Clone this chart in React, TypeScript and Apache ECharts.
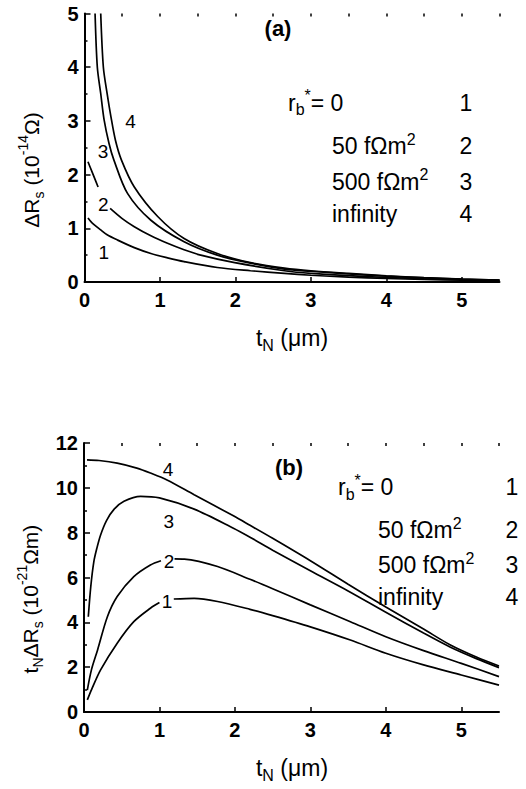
import React, { useEffect, useRef } from 'react';
import * as echarts from 'echarts';

const FONT = '"Liberation Sans", Arial, Helvetica, sans-serif';

// ---------- Panel (a): ΔRs (10^-14 Ω) vs tN (µm) ----------
const curveA1: any[] = [
  [0.046, 1.19], [0.1, 1.1], [0.215, 0.97], [0.3, 0.88], [0.44, 0.78], [0.66, 0.64],
  [0.88, 0.53], [1.1, 0.45], [1.32, 0.38], [1.76, 0.27], [2.2, 0.21], [2.65, 0.16],
  [3, 0.126], [3.5, 0.09], [4, 0.065], [4.5, 0.048], [5, 0.034], [5.5, 0.022],
];
const curveA2: any[] = [
  [0.046, 2.24], [0.1, 2.05], [0.18, 1.77], [0.26, null], [0.34, 1.37], [0.5, 1.18],
  [0.66, 1.03], [0.88, 0.86], [1.1, 0.72], [1.32, 0.6], [1.54, 0.5], [1.99, 0.36],
  [2.65, 0.21], [3, 0.16], [3.5, 0.12], [4, 0.084], [4.5, 0.06], [5, 0.043], [5.5, 0.029],
];
const curveA3: any[] = [
  [0.14, 5.0], [0.17, 4.0], [0.215, 3.51], [0.26, 3.02], [0.325, 2.58], [0.39, 2.27],
  [0.57, 1.65], [0.88, 1.15], [1.32, 0.75], [1.76, 0.5], [2.2, 0.35], [2.65, 0.24],
  [3, 0.2], [3.5, 0.15], [4, 0.11], [4.5, 0.076], [5, 0.052], [5.5, 0.036],
];
const curveA4: any[] = [
  [0.215, 5.0], [0.25, 4.0], [0.3, 3.51], [0.35, 3.08], [0.41, 2.64], [0.49, 2.27],
  [0.66, 1.77], [0.97, 1.22], [1.32, 0.81], [1.76, 0.53], [2.2, 0.36], [2.65, 0.26],
  [3, 0.21], [3.5, 0.16], [4, 0.115], [4.5, 0.08], [5, 0.055], [5.5, 0.037],
];

// ---------- Panel (b): tN·ΔRs (10^-21 Ωm) vs tN (µm) ----------
const curveB1: any[] = [
  [0.044, 0.54], [0.1, 1.0], [0.22, 1.88], [0.44, 3.07], [0.66, 4.03], [0.88, 4.63],
  [1.0, 4.88], [1.1, null], [1.19, 5.04], [1.46, 5.07], [1.77, 4.93], [2.2, 4.58],
  [2.5, 4.3], [3, 3.8], [3.53, 3.21], [4, 2.62], [4.5, 2.1], [5, 1.65], [5.5, 1.2],
];
const curveB2: any[] = [
  [0.044, 0.98], [0.1, 1.9], [0.18, 2.77], [0.31, 4.25], [0.44, 5.15], [0.66, 6.04],
  [0.88, 6.56], [1.02, 6.75], [1.1, null], [1.2, 6.83], [1.33, 6.82], [1.77, 6.49],
  [2.2, 5.92], [2.5, 5.5], [3, 4.78], [3.53, 4.03], [4, 3.36], [4.5, 2.74], [5, 2.17], [5.5, 1.58],
];
const curveB3: any[] = [
  [0.057, 4.25], [0.09, 5.6], [0.13, 6.7], [0.17, 7.3], [0.22, 7.9], [0.3, 8.55],
  [0.4, 9.05], [0.53, 9.4], [0.75, 9.62], [1.0, 9.55], [1.46, 9.05], [1.98, 8.2],
  [2.2, 7.8], [2.5, 7.22], [3, 6.3], [3.5, 5.4], [4, 4.45], [4.5, 3.52], [4.85, 2.9],
  [5.2, 2.38], [5.5, 1.98],
];
const curveB4: any[] = [
  [0.04, 11.25], [0.2, 11.22], [0.44, 11.1], [0.7, 10.88], [0.88, 10.66], [1.1, 10.35],
  [1.46, 9.69], [1.98, 8.75], [2.2, 8.33], [2.5, 7.75], [3, 6.75], [3.5, 5.7], [4, 4.68],
  [4.5, 3.7], [4.85, 3.0], [5.2, 2.45], [5.5, 2.05],
];

const xTickValues = [0, 1, 2, 3, 4, 5];
const curveNames = ['1', '2', '3', '4'];
const legendTexts = ['{n|r}{sub|b}{sup|*}{n|= 0}', '{n|50 fΩm}{sup|2}', '{n|500 fΩm}{sup|2}', '{n|infinity}'];

const rich = (fs: number) => ({
  n: { fontSize: fs, fontFamily: FONT, lineHeight: 30, fill: '#000' },
  sub: { fontSize: Math.round(fs * 0.68), fontFamily: FONT, lineHeight: 14, verticalAlign: 'bottom', fill: '#000' },
  sup: { fontSize: Math.round(fs * 0.68), fontFamily: FONT, lineHeight: 14, verticalAlign: 'top', fill: '#000' },
});

function txt(text: string, x: number, y: number, opts: any = {}) {
  return {
    type: 'text',
    x,
    y,
    rotation: opts.rotation || 0,
    z: 100,
    style: {
      text,
      rich: rich(opts.fs || 23),
      align: opts.align || 'center',
      verticalAlign: 'middle',
      fill: '#000',
      fontFamily: FONT,
      fontSize: opts.fs || 23,
    },
  };
}

function plain(text: string, x: number, y: number, fs: number, bold = false) {
  return {
    type: 'text',
    x,
    y,
    z: 100,
    style: {
      text,
      align: 'center',
      verticalAlign: 'middle',
      fill: '#000',
      fontFamily: FONT,
      fontSize: fs,
      fontWeight: bold ? 'bold' : 'normal',
    },
  };
}

const axisLabelStyle = { color: '#000', fontFamily: FONT, fontSize: 20, fontWeight: 'bold' };

function majorX(gridIndex: number) {
  return {
    type: 'value', gridIndex, min: 0, max: 5.5, interval: 1,
    axisLine: { show: true, onZero: false, lineStyle: { color: '#000', width: 2 } },
    axisTick: { show: true, inside: true, length: 5, customValues: xTickValues, lineStyle: { color: '#000', width: 1.5 } },
    axisLabel: {
      ...axisLabelStyle, margin: 8, customValues: xTickValues,
      formatter: (v: number) => (Number.isInteger(v) ? String(v) : ''),
    },
    splitLine: { show: false },
  };
}
function minorX(gridIndex: number) {
  return {
    type: 'value', gridIndex, min: 0, max: 5.5, interval: 0.5,
    axisLine: { show: false, onZero: false },
    axisTick: { show: true, inside: true, length: 3, lineStyle: { color: '#000', width: 1.5 } },
    axisLabel: { show: false },
    splitLine: { show: false },
  };
}
function yAx(gridIndex: number, max: number, interval: number) {
  return {
    type: 'value', gridIndex, min: 0, max, interval,
    axisLine: { show: true, onZero: false, lineStyle: { color: '#000', width: 2 } },
    axisTick: { show: true, inside: true, length: 6, lineStyle: { color: '#000', width: 1.5 } },
    minorTick: { show: true, splitNumber: 2, length: 3, lineStyle: { color: '#000', width: 1.5 } },
    axisLabel: { ...axisLabelStyle, margin: 6 },
    splitLine: { show: false },
  };
}

function line(data: any[], xi: number, yi: number) {
  return {
    type: 'line', data, xAxisIndex: xi, yAxisIndex: yi,
    showSymbol: false, symbol: 'none', smooth: 0.3,
    connectNulls: false, clip: true,
    lineStyle: { color: '#000', width: 1.7 },
    silent: true,
  };
}

export default function App() {
  const ref = useRef<HTMLDivElement>(null);
  useEffect(() => {
    if (!ref.current) return;
    const chart = echarts.init(ref.current, null, { renderer: 'svg' });
    const graphics: any[] = [];
    graphics.push(plain('(a)', 278, 28, 22, true));
    graphics.push(plain('(b)', 289, 467, 22, true));
    const legAx = [288, 332, 332, 332];
    const legAy = [102.5, 146, 181.5, 214];
    const legBx = [338, 378, 378, 378];
    const legBy = [487, 530, 565, 597];
    legendTexts.forEach((t, i) => {
      graphics.push(txt(t, legAx[i], legAy[i], { align: 'left', fs: 23 }));
      graphics.push(plain(curveNames[i], 466, legAy[i], 23));
      graphics.push(txt(t, legBx[i], legBy[i], { align: 'left', fs: 23 }));
      graphics.push(plain(curveNames[i], 512, legBy[i], 23));
    });
    const cAx = [103.7, 103.3, 103, 130.5];
    const cAy = [252.5, 204, 151.7, 121.7];
    const cBx = [167, 169, 168.7, 168];
    const cBy = [601.5, 561.5, 521.7, 469.5];
    curveNames.forEach((n, i) => {
      graphics.push(plain(n, cAx[i], cAy[i], 19));
      graphics.push(plain(n, cBx[i], cBy[i], 19));
    });
    graphics.push(txt('{n|ΔR}{sub|s}{n| (10}{sup|-14}{n|Ω)}', 31, 170, { rotation: Math.PI / 2, fs: 21 }));
    graphics.push(txt('{n|t}{sub|N}{n|ΔR}{sub|s}{n| (10}{sup|-21}{n|Ωm)}', 30, 599, { rotation: Math.PI / 2, fs: 21 }));
    graphics.push(txt('{n|t}{sub|N}{n| (μm)}', 292, 338, { fs: 23 }));
    graphics.push(txt('{n|t}{sub|N}{n| (μm)}', 292, 768, { fs: 23 }));

    chart.setOption({
      animation: false,
      backgroundColor: '#fff',
      grid: [
        { left: 84.5, top: 13.5, width: 415, height: 268.5, containLabel: false },
        { left: 84, top: 443, width: 415, height: 269, containLabel: false },
      ],
      xAxis: [majorX(0), minorX(0), majorX(1), minorX(1)],
      yAxis: [yAx(0, 5, 1), yAx(1, 12, 2)],
      series: [
        line(curveA1, 0, 0), line(curveA2, 0, 0), line(curveA3, 0, 0), line(curveA4, 0, 0),
        line(curveB1, 2, 1), line(curveB2, 2, 1), line(curveB3, 2, 1), line(curveB4, 2, 1),
      ],
      graphic: graphics,
    });
    return () => chart.dispose();
  }, []);
  return (
    <div
      ref={ref}
      style={{ position: 'fixed', left: 0, top: 0, width: 526, height: 789, background: '#fff' }}
    />
  );
}
